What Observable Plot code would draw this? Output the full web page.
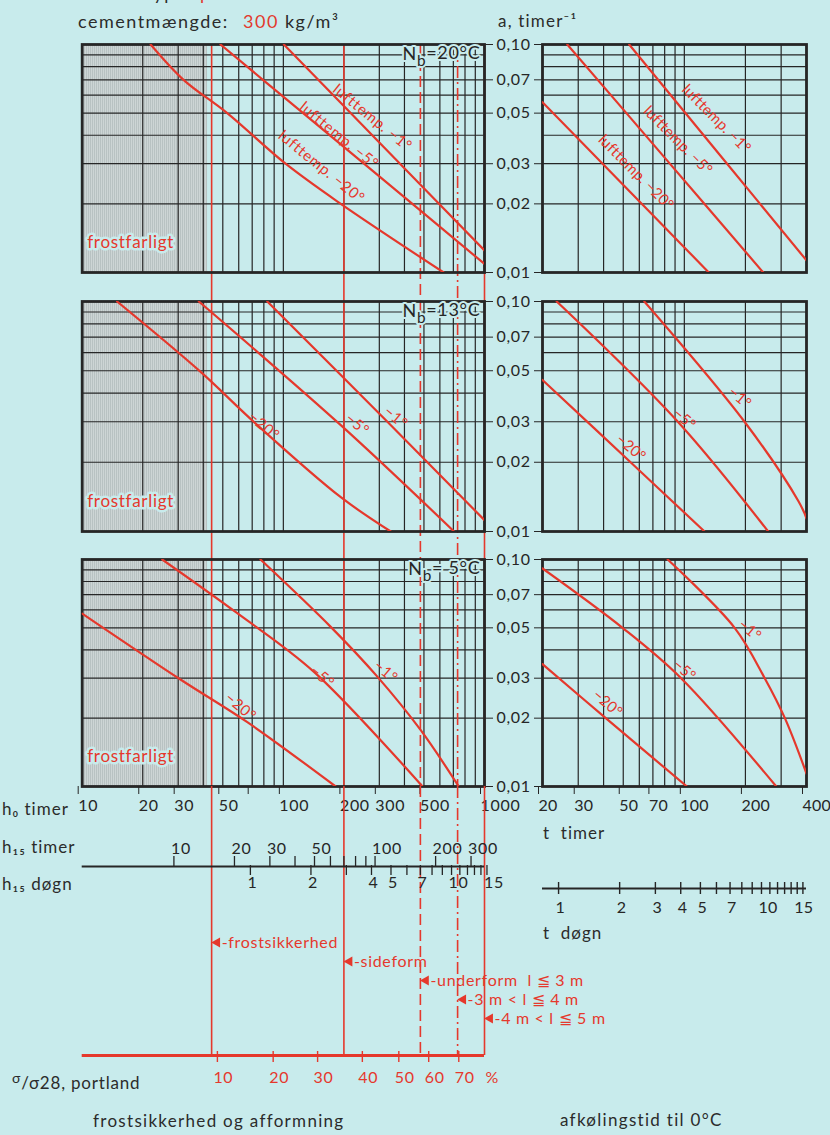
<!DOCTYPE html>
<html><head><meta charset="utf-8">
<script src="https://cdn.jsdelivr.net/npm/d3@7"></script>
<script src="https://cdn.jsdelivr.net/npm/@observablehq/plot@0.6"></script>
<style>
body{margin:0;background:#c8ebec;}
#page{position:relative;width:830px;height:1135px;overflow:hidden;background:#c8ebec;font-family:Lato,"Open Sans",sans-serif;color:#2b2b2b;}
#page svg.plot{position:absolute;left:0;overflow:visible;}
.lbl{position:absolute;font-size:16px;line-height:20px;white-space:nowrap;letter-spacing:1px;}
.red{color:#e23a2e;}
</style></head><body>
<svg width="0" height="0" style="position:absolute"><defs>
<pattern id="stip" width="2" height="4" patternUnits="userSpaceOnUse">
<rect width="2" height="4" fill="#cdd5d5"/><rect width="1" height="4" fill="#b8c2c2"/>
</pattern></defs></svg>
<div id="page"></div>
<script>
// ---------------- data ----------------
const aTicks = [0.01, 0.02, 0.03, 0.05, 0.07, 0.10];
const aGrid = [0.01, 0.02, 0.03, 0.04, 0.05, 0.06, 0.07, 0.08, 0.09, 0.10];
const aDomain = [0.01, 0.10];
const h0Domain = [10, 1000];
const tDomain = [20, 400];
const h15Domain = [3.5, 350];
const h0Grid = [10,20,30,40,50,60,70,80,90,100,200,300,400,500,600,700,800,900,1000];
const tGrid = [20,30,40,50,60,70,80,90,100,200,300,400];
const h0Ticks = [10,20,30,50,70,100,200,300,500,1000];
const tTicks = [20,30,50,70,100,200,400];
const h15Ticks = [10,20,30,40,50,60,70,80,90,100,200,300];
const h15Labels = [10,20,30,50,70,100,200,300];
const dognTicks = [1,2,3,4,5,6,7,8,9,10,11,12,13,14,15];
const dognLabels = [1,2,3,4,5,7,10,15];
const tDognTicks = [1,2,3,4,5,6,7,8,9,10,11,12,13,14,15,16];
const frostShade = [10, 42];
const nbLabels = ["N_b=20°C", "N_b=13°C", "N_b= 5°C"];

// form removal limits (h0 timer) and labels
const formH0 = [44, 200, 480, 735, 1000];
const formRows = ["frost", "side", "under", "l34", "l45"];
const formLabels = ["frostsikkerhed", "sideform", "underform  l ≦ 3 m", "3 m < l ≦ 4 m", "4 m < l ≦ 5 m"];

// percentage axis σ/σ28 and matching h0
const pctValues = [10, 20, 30, 40, 50, 60, 70];
const pctH0 = [47, 89, 148, 247, 375, 528, 745];

// curves: [h0 or t, a]
const nb20_h0_m20 = [[21.9,0.1],[31.9,0.07],[52.6,0.05],[102.6,0.03],[193,0.02],[627,0.01]];
const nb20_h0_m5  = [[48.7,0.1],[110,0.055],[300,0.0264],[1000,0.0109]];
const nb20_h0_m1  = [[100.6,0.1],[300,0.0372],[1000,0.0125]];
const nb20_t_m20  = [[20,0.0558],[40,0.0297],[80,0.0158],[132,0.01]];
const nb20_t_m5   = [[26.5,0.1],[80,0.0319],[245,0.01]];
const nb20_t_m1   = [[53.5,0.1],[150,0.0327],[400,0.0113]];

const nb13_h0_m20 = [[14.9,0.1],[38.8,0.0494],[71.5,0.0299],[193,0.0141],[342,0.01]];
const nb13_h0_m5  = [[38,0.1],[193,0.029],[706,0.01]];
const nb13_h0_m1  = [[83.2,0.1],[329,0.03],[1000,0.0112]];
const nb13_t_m20  = [[20,0.0456],[55,0.0198],[125.8,0.01]];
const nb13_t_m5   = [[23.5,0.1],[92.9,0.03],[259,0.01]];
const nb13_t_m1   = [[63.5,0.1],[198,0.03],[364,0.0136],[400,0.0114]];

const nb5_h0_m20 = [[10,0.0578],[30.8,0.0296],[66.2,0.0192],[182,0.01]];
const nb5_h0_m5  = [[25,0.1],[59,0.058],[142,0.032],[492,0.01]];
const nb5_h0_m1  = [[77,0.1],[172,0.0505],[294,0.0304],[482,0.0177],[745,0.01]];
const nb5_t_m20  = [[20,0.0346],[41,0.02],[103,0.01]];
const nb5_t_m5   = [[20,0.0913],[49.6,0.05],[96.4,0.03],[284,0.01]];
const nb5_t_m1   = [[82.8,0.1],[177,0.05],[249,0.03],[313,0.02],[400,0.0114]];

// curve labels: [x, a, text]
const lab20_h0 = [[277,0.0477,"lufttemp. −1°"],[189,0.0399,"lufttemp. −5°"],[154.6,0.029,"lufttemp. −20°"]];
const lab20_t  = [[143.6,0.0472,"lufttemp. −1°"],[92.9,0.0379,"lufttemp. −5°"],[57.7,0.0275,"lufttemp. −20°"]];
const lab13_h0 = [[80.1,0.0287,"−20°"],[233,0.0292,"−5°"],[362,0.0313,"−1°"]];
const lab13_t  = [[187.5,0.0382,"−1°"],[100,0.0308,"−5°"],[54.5,0.0231,"−20°"]];
const lab5_h0  = [[61.3,0.0224,"−20°"],[156,0.0304,"−5°"],[323,0.032,"−1°"]];
const lab5_t   = [[210,0.0488,"−1°"],[100,0.0325,"−5°"],[41.8,0.0232,"−20°"]];

// ---------------- layout / style ----------------
const RED = "#e5382c", INK = "#262626", BG = "#c8ebec";
const W = 830;
const LX = [81.7, 484], RX = [542, 806];
const ROWS = [[44, 272], [301, 531], [559, 786]];
const formDash = ["none", "none", "11,5", "12,4,2,4", "none"];
const page = document.getElementById("page");
const baseStyle = {background: "transparent", fontFamily: "Lato, 'Open Sans', sans-serif", fontSize: "15px", letterSpacing: "0.7px", color: INK, overflow: "visible"};
const rightStyle = {...baseStyle, letterSpacing: "0.2px"};
const fmtA = d => d.toFixed(2).replace(".", ",");

function place(svg, top) { svg.classList.add("plot"); svg.style.top = top + "px"; page.append(svg); return svg; }

function subscriptNb(svg) {
  const ns = "http://www.w3.org/2000/svg";
  svg.querySelectorAll("text").forEach(t => {
    if (t.textContent.startsWith("N_b")) {
      const rest = t.textContent.slice(3);
      t.textContent = "";
      const a = document.createElementNS(ns, "tspan"); a.textContent = "N";
      const b = document.createElementNS(ns, "tspan"); b.textContent = "b"; b.setAttribute("dy", "0.38em"); b.setAttribute("font-size", "0.85em");
      const c = document.createElementNS(ns, "tspan"); c.textContent = rest; c.setAttribute("dy", "-0.38em");
      t.append(a, b, c);
    }
  });
}

function panel(side, r, curveSets, labels, rotate) {
  const isL = side === "L";
  const [x0, x1] = isL ? LX : RX;
  const [y0, y1] = ROWS[r];
  const mT = 10, mB = 40;
  const gapBelow = r < 2 ? ROWS[r + 1][0] - y1 : 0;
  const data = curveSets.flatMap(([name, pts]) => pts.map(([x, y]) => ({name, x, y})));
  const labs = labels.map(([x, y, t]) => ({x, y, t}));
  const marks = [];
  if (isL) marks.push(Plot.rect([frostShade], {x1: d => d[0], x2: d => d[1], y1: () => aDomain[0], y2: () => aDomain[1], fill: "url(#stip)"}));
  marks.push(Plot.ruleX(isL ? h0Grid : tGrid, {stroke: INK, strokeWidth: 1.2}));
  marks.push(Plot.ruleY(aGrid, {stroke: INK, strokeWidth: 1.2}));
  if (isL) formH0.forEach((h, i) => marks.push(Plot.ruleX([h], {stroke: RED, strokeWidth: 1.6, strokeDasharray: formDash[i], insetBottom: -gapBelow})));
  marks.push(Plot.frame({stroke: INK, strokeWidth: 2.8}));
  marks.push(Plot.line(data, {x: "x", y: "y", z: "name", stroke: RED, strokeWidth: 2.2, curve: "catmull-rom", clip: true}));
  marks.push(Plot.text(labs, {x: "x", y: "y", text: "t", rotate, fill: RED, fontSize: 15}));
  if (isL) {
    marks.push(Plot.text([nbLabels[r]], {frameAnchor: "top-right", textAnchor: "end", lineAnchor: "top", dx: -4, dy: 3, fontSize: 18, fill: INK, stroke: BG, strokeWidth: 4, paintOrder: "stroke"}));
    marks.push(Plot.text(["frostfarligt"], {frameAnchor: "bottom-left", textAnchor: "start", lineAnchor: "middle", dx: 5, dy: -30, fontSize: 17, fill: RED, stroke: BG, strokeWidth: 5, paintOrder: "stroke"}));
    marks.push(Plot.axisY({anchor: "right", ticks: aTicks, tickSize: 8, tickPadding: 4, tickFormat: fmtA, label: null, fontSize: 16}));
  } else {
    marks.push(Plot.axisY({anchor: "left", ticks: aTicks, tickSize: 8, tickFormat: () => "", label: null}));
  }
  if (r === 2) {
    marks.push(Plot.axisX({anchor: "bottom", ticks: isL ? h0Ticks : tTicks, tickSize: 8, tickPadding: 5, textAnchor: "start", dx: -4, tickFormat: d => String(d), label: null, fontSize: 16}));
  }
  const svg = Plot.plot({
    width: W, height: mT + (y1 - y0) + mB,
    marginLeft: x0, marginRight: W - x1, marginTop: mT, marginBottom: mB,
    x: r === 2 ? {type: "log", domain: isL ? h0Domain : tDomain} : {type: "log", domain: isL ? h0Domain : tDomain, axis: null},
    y: {type: "log", domain: aDomain},
    style: isL ? baseStyle : rightStyle,
    marks
  });
  subscriptNb(svg);
  return place(svg, y0 - mT);
}

panel("L", 0, [["m20", nb20_h0_m20], ["m5", nb20_h0_m5], ["m1", nb20_h0_m1]], lab20_h0, 39);
panel("R", 0, [["m20", nb20_t_m20], ["m5", nb20_t_m5], ["m1", nb20_t_m1]], lab20_t, 45);
panel("L", 1, [["m20", nb13_h0_m20], ["m5", nb13_h0_m5], ["m1", nb13_h0_m1]], lab13_h0, 40);
panel("R", 1, [["m20", nb13_t_m20], ["m5", nb13_t_m5], ["m1", nb13_t_m1]], lab13_t, 40);
panel("L", 2, [["m20", nb5_h0_m20], ["m5", nb5_h0_m5], ["m1", nb5_h0_m1]], lab5_h0, 40);
panel("R", 2, [["m20", nb5_t_m20], ["m5", nb5_t_m5], ["m1", nb5_t_m1]], lab5_t, 40);

// form lines below the panels with arrow labels
{
  const top = ROWS[2][1], bottom = 1055;
  const formData = formH0.map((h0, i) => ({h0, row: formRows[i], label: formLabels[i]}));
  const svg = Plot.plot({
    width: W, height: bottom - top, marginLeft: LX[0], marginRight: W - LX[1], marginTop: 0, marginBottom: 0,
    x: {type: "log", domain: h0Domain, axis: null},
    y: {type: "point", domain: formRows, range: [931 - top, 1029 - top], axis: null},
    style: baseStyle,
    marks: [
      ...formH0.map((h, i) => Plot.ruleX([h], {stroke: RED, strokeWidth: 1.6, strokeDasharray: formDash[i]})),
      Plot.dot(formData, {x: "h0", y: "row", symbol: "triangle", rotate: -90, r: 3.8, fill: RED, dx: 5.5}),
      Plot.text(formData, {x: "h0", y: "row", text: d => "-" + d.label, textAnchor: "start", dx: 10, fill: RED, fontSize: 16})
    ]
  });
  place(svg, top);
}

// percent axis σ/σ28
{
  const svg = Plot.plot({
    width: W, height: 41, marginLeft: LX[0], marginRight: W - LX[1], marginTop: 0, marginBottom: 40,
    x: {type: "log", domain: h0Domain, axis: null},
    y: {domain: [0, 1], axis: null},
    style: baseStyle,
    marks: [
      Plot.ruleY([0], {stroke: RED, strokeWidth: 3}),
      Plot.tickX(pctH0, {insetTop: -3, insetBottom: -7, stroke: RED, strokeWidth: 1.4}),
      Plot.text(pctH0, {x: d => d, y: () => 0, text: (d, i) => String(pctValues[i]), dy: 22, dx: -4, textAnchor: "start", fill: RED, fontSize: 16}),
      Plot.text(["%"], {x: () => 1000, y: () => 0, dy: 22, dx: 1, textAnchor: "start", fill: RED, fontSize: 16})
    ]
  });
  place(svg, 1055 - 1);
}

// h15 axis (timer above, døgn below)
{
  const svg = Plot.plot({
    width: W, height: 60, marginLeft: LX[0], marginRight: W - LX[1], marginTop: 30, marginBottom: 29,
    x: {type: "log", domain: h15Domain},
    y: {domain: [0, 1], axis: null},
    style: baseStyle,
    marks: [
      Plot.ruleY([0], {stroke: INK, strokeWidth: 2.2}),
      Plot.tickX(h15Ticks, {insetTop: -9, stroke: INK, strokeWidth: 1.3}),
      Plot.tickX(dognTicks.map(d => d * 24), {insetBottom: -9, stroke: INK, strokeWidth: 1.3}),
      Plot.axisX({anchor: "top", ticks: h15Labels, tickSize: 0, tickPadding: 12, textAnchor: "start", dx: -3, tickFormat: d => String(d), label: null, fontSize: 16}),
      Plot.axisX({anchor: "bottom", ticks: dognLabels.map(d => d * 24), tickSize: 0, tickPadding: 10, textAnchor: "start", dx: -3, tickFormat: d => String(Math.round(d / 24)), label: null, fontSize: 16})
    ]
  });
  place(svg, 866 - 31);
}

// t døgn axis (right)
{
  const svg = Plot.plot({
    width: W, height: 50, marginLeft: RX[0], marginRight: W - RX[1], marginTop: 10, marginBottom: 39,
    x: {type: "log", domain: tDomain},
    y: {domain: [0, 1], axis: null},
    style: rightStyle,
    marks: [
      Plot.ruleY([0], {stroke: INK, strokeWidth: 2.2}),
      Plot.tickX(tDognTicks.map(d => d * 24), {insetTop: -5, insetBottom: -6, stroke: INK, strokeWidth: 1.4}),
      Plot.axisX({anchor: "bottom", ticks: dognLabels.map(d => d * 24), tickSize: 0, tickPadding: 13, textAnchor: "start", dx: -3, tickFormat: d => String(Math.round(d / 24)), label: null, fontSize: 16})
    ]
  });
  place(svg, 888 - 11);
}

// ---------------- text labels ----------------
function label(html, x, yc, size, spacing) {
  const d = document.createElement("div");
  d.className = "lbl"; d.innerHTML = html;
  d.style.left = x + "px"; d.style.top = (yc - 10) + "px";
  if (size) d.style.fontSize = size + "px";
  if (spacing !== undefined) d.style.letterSpacing = spacing + "px";
  page.append(d);
}
label('cementtype:', 78, -7, 18, 1.5);
label('<span class="red">portland</span>', 200, -7, 18, 1.5);
label('cementmængde:', 78, 21, 18, 1.5);
label('<span class="red">300</span> kg/m³', 243, 21, 18, 1.5);
label('a, timer⁻¹', 498, 21, 17, 1.2);
label('h₀ timer', 2, 809, 17, 1);
label('h₁₅ timer', 2, 847, 17, 1);
label('h₁₅ døgn', 2, 884, 17, 1);
label('t&nbsp; timer', 543, 833, 17, 1);
label('t&nbsp; døgn', 543, 933, 17, 1);
label('<span style="position:relative;top:-6px;font-size:14px">σ</span>/σ28, portland', 12, 1083, 17, 0.8);
label('frostsikkerhed og afformning', 93, 1121, 17, 1.3);
label('afkølingstid til 0°C', 560, 1120, 17, 1.3);
</script></body></html>
